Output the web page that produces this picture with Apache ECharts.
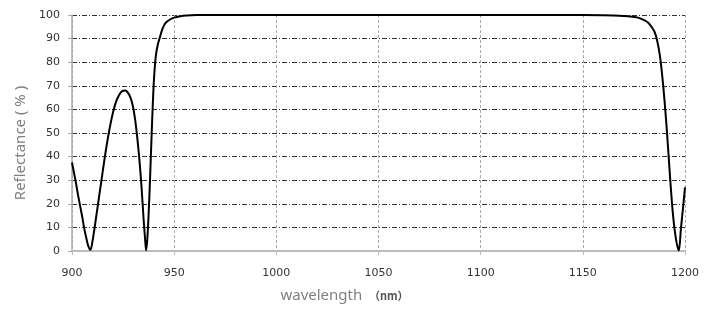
<!DOCTYPE html>
<html>
<head>
<meta charset="utf-8">
<script src="https://cdn.jsdelivr.net/npm/echarts@6/dist/echarts.min.js"></script>
<style>
html,body{margin:0;padding:0;background:#fff;}
#chart{width:712px;height:320px;}
</style>
</head>
<body>
<div id="chart"></div>
<script>
// Wavelength (nm)
var wavelength = [900, 901, 902, 903, 904, 905, 906, 907, 908, 909, 910, 911, 912, 913, 914, 915, 916, 917, 918, 919, 920,
  921, 922, 923, 924, 925, 926, 927, 928, 929, 930, 931, 932, 933, 934, 935, 936, 936.3, 937, 938, 939, 940, 941, 942, 943,
  944, 945, 946, 948, 950, 953, 956, 961, 1000, 1050, 1100, 1150, 1160, 1165, 1170, 1174, 1177, 1180, 1182, 1184, 1185,
  1186, 1187, 1188, 1189, 1190, 1191, 1192, 1193, 1194, 1195, 1196, 1197, 1198, 1199, 1200];
// Reflectance (%)
var reflectance = [37.5, 33, 28.5, 23.5, 19, 14.5, 9.5, 5.5, 2, 0.5, 4, 9.5, 15.5, 21.5, 27.5, 33.5, 39.5, 45, 50, 54.5, 58.5,
  61.7, 64.2, 66, 67.3, 67.9, 68, 67.5, 66.2, 64, 60.5, 55, 47.5, 38.5, 27.5, 14, 2.5, 0.3, 7, 26, 50, 71, 82.5, 87.5, 90.5,
  93.5, 95.5, 96.8, 98.1, 98.9, 99.5, 99.8, 100, 100, 100, 100, 100, 99.9, 99.8, 99.6, 99.3, 98.9, 97.8, 96.7, 94.5, 93,
  90.5, 86.5, 81, 73, 63.5, 52.5, 40, 27.5, 16.5, 8.5, 3, 0.2, 9.5, 18, 27];
var xTicks = [900, 950, 1000, 1050, 1100, 1150, 1200];
var yTicks = [0, 10, 20, 30, 40, 50, 60, 70, 80, 90, 100];

var points = wavelength.map(function (w, i) { return [w, reflectance[i]]; });

var chart = echarts.init(document.getElementById('chart'), null, {renderer: 'canvas'});
chart.setOption({
  animation: false,
  backgroundColor: '#fff',
  grid: {left: 72, right: 27, top: 15, bottom: 69, containLabel: false},
  xAxis: {
    type: 'value',
    min: xTicks[0], max: xTicks[xTicks.length - 1], interval: 50,
    name: '{a|wavelength}  {b|（nm）}',
    nameLocation: 'middle',
    nameGap: 37,
    nameTextStyle: {
      padding: [0, 68, 0, 0],
      rich: {
        a: {fontFamily: 'Noto Sans', fontSize: 15, color: '#808080'},
        b: {fontFamily: 'Noto Sans CJK SC', fontSize: 11, fontWeight: 'bold', color: '#555'}
      }
    },
    axisLine: {show: true, lineStyle: {color: '#bbbbbb', width: 2}},
    axisTick: {show: true, length: 4, lineStyle: {color: '#bbbbbb'}},
    axisLabel: {margin: 17, fontFamily: 'DejaVu Sans', fontSize: 11, color: '#333',
      formatter: function (v) { return String(v); }},
    splitLine: {show: true, lineStyle: {color: '#aaaaaa', width: 1, type: [3, 2]}}
  },
  yAxis: {
    type: 'value',
    min: yTicks[0], max: yTicks[yTicks.length - 1], interval: 10,
    name: 'Reflectance ( % )',
    nameLocation: 'middle',
    nameGap: 34,
    nameTextStyle: {fontFamily: 'Noto Sans', fontSize: 15, color: '#808080', padding: [0, 20, 0, 0]},
    axisLine: {show: true, lineStyle: {color: '#aaaaaa', width: 1.5}},
    axisTick: {show: true, length: 4, lineStyle: {color: '#aaaaaa'}},
    axisLabel: {margin: 12, fontFamily: 'DejaVu Sans', fontSize: 11, color: '#333',
      formatter: function (v) { return String(v); }},
    splitLine: {show: true, lineStyle: {color: '#333333', width: 1, type: [5, 2, 1, 2]}}
  },
  series: [{
    type: 'line',
    data: points,
    showSymbol: false,
    smooth: 0.3,
    lineStyle: {color: '#000', width: 2},
    z: 5
  }]
});
</script>
</body>
</html>
